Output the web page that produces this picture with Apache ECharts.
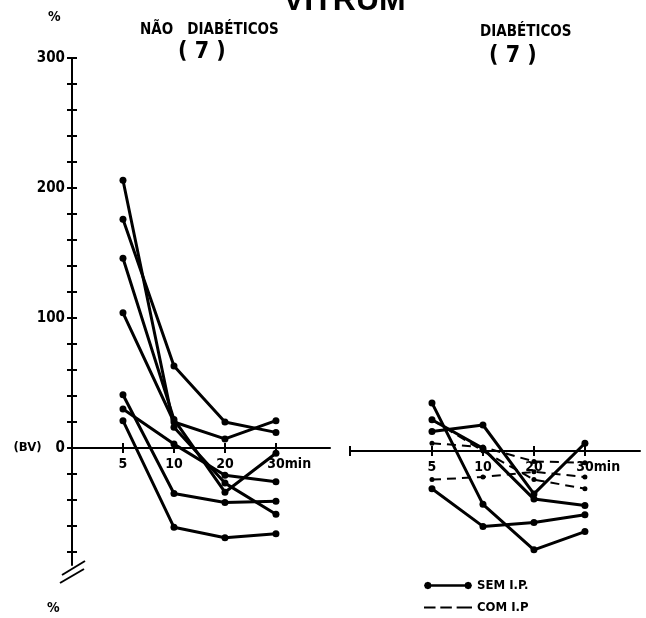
<!DOCTYPE html>
<html><head><meta charset="utf-8">
<script src="https://cdn.jsdelivr.net/npm/echarts@6/dist/echarts.min.js"></script>
<style>html,body{margin:0;padding:0;background:#fff}#c{width:646px;height:618px}</style>
</head><body><div id="c"></div>
<script>
// ---- data ----
const times = ['5', '10', '20', '30'];
const yTickValues = [-80,-60,-40,-20,0,20,40,60,80,100,120,140,160,180,200,220,240,260,280,300];
const yLabelValues = [0, 100, 200, 300];
// Não diabéticos (7) – all solid
const nd1 = [206, 16, -27, -51];
const nd2 = [176, 63, 20, 12];
const nd3 = [146, 22, -34, -4];
const nd4 = [104, 20, 7, 21];
const nd5 = [41, -35, -42, -41];
const nd6 = [30, 3, -21, -26];
const nd7 = [21, -61, -69, -66];
// Diabéticos (7) – SEM I.P. (solid)
const dSem1 = [37, -41, -76, -62];
const dSem2 = [-29, -58, -55, -49];
const dSem3 = [15, 20, -33, 6];
const dSem4 = [24, 2, -37, -42];
// Diabéticos – COM I.P (dashed)
const dCom1 = [-22, -20, -16, -20];
const dCom2 = [6, 3, -8, -9];
const dCom3 = [24, 0, -22, -29];

const F = "'DejaVu Sans Condensed','DejaVu Sans',sans-serif";
const tickPos = times.map((t, i) => i + 1);
const toPts = arr => arr.map((v, i) => [i + 1, v]);

function solid(name, arr, g) {
  return { type: 'line', name, xAxisIndex: g * 2, yAxisIndex: g * 2, data: toPts(arr),
    symbol: 'circle', symbolSize: 7, itemStyle: { color: '#000' },
    lineStyle: { color: '#000', width: 3 }, animation: false, silent: true };
}
function dashed(name, arr, g) {
  return { type: 'line', name, xAxisIndex: g * 2, yAxisIndex: g * 2, data: toPts(arr),
    symbol: 'circle', symbolSize: 5, itemStyle: { color: '#000' },
    lineStyle: { color: '#000', width: 2, type: [9, 6] }, animation: false, silent: true };
}

const xLabelFmt = v => {
  const i = Math.round(v) - 1;
  if (i === 3) return '{h|min}' + times[i] + 'min';
  return times[i];
};
const xLabelRich = { h: { color: 'rgba(0,0,0,0)', fontSize: 14, fontWeight: 'bold', fontFamily: F } };

function xAxes(grid, min, max, ticks) {
  return [
    { gridIndex: grid, type: 'value', min, max, position: 'bottom', offset: -117,
      axisLine: { show: true, onZero: false, lineStyle: { color: '#000', width: 2 } },
      axisTick: { show: false },
      axisLabel: { show: true, customValues: tickPos, formatter: xLabelFmt, margin: 9, color: '#000',
        fontSize: 14, fontWeight: 'bold', fontFamily: F, rich: xLabelRich },
      splitLine: { show: false } },
    { gridIndex: grid, type: 'value', min, max, position: 'bottom', offset: -122,
      axisLine: { show: false, onZero: false },
      axisTick: { show: true, customValues: ticks, length: 10, lineStyle: { color: '#000', width: 2 } },
      axisLabel: { show: false }, splitLine: { show: false } }
  ];
}

const legendText = { color: '#000', fontSize: 13, fontWeight: 'bold', fontFamily: F };
const dot = (cx) => `M${cx-4},4L${cx-2.8},1.2L${cx},0L${cx+2.8},1.2L${cx+4},4L${cx+2.8},6.8L${cx},8L${cx-2.8},6.8Z`;

const chart = echarts.init(document.getElementById('c'), null, { renderer: 'canvas' });
chart.setOption({
  backgroundColor: '#fff',
  animation: false,
  grid: [
    { left: 72, top: 58, width: 258, height: 507, outerBoundsMode: 'none', containLabel: false },
    { left: 350, top: 61, width: 290, height: 507, outerBoundsMode: 'none', containLabel: false }
  ],
  xAxis: [].concat(xAxes(0, 0, 5.06, tickPos), xAxes(1, -0.608, 5.08, [-0.608].concat(tickPos))),
  yAxis: [
    { gridIndex: 0, type: 'value', min: -90, max: 300, position: 'left',
      axisLine: { show: true, onZero: false, lineStyle: { color: '#000', width: 2 } },
      axisTick: { show: false },
      axisLabel: { show: true, customValues: yLabelValues, margin: 7, color: '#000', fontSize: 15,
        fontWeight: 'bold', fontFamily: F,
        formatter: v => v === 0 ? '{bv|(BV)}0' : String(v),
        rich: { bv: { fontSize: 13, fontWeight: 'bold', fontFamily: F, color: '#000', padding: [0, 14, 0, 0] } } },
      splitLine: { show: false } },
    { gridIndex: 0, type: 'value', min: -90, max: 300, position: 'left', offset: -5,
      axisLine: { show: false, onZero: false },
      axisTick: { show: true, customValues: yTickValues, length: 10, lineStyle: { color: '#000', width: 2 } },
      axisLabel: { show: false }, splitLine: { show: false } },
    { gridIndex: 1, type: 'value', min: -90, max: 300, show: false,
      axisLine: { onZero: false }, splitLine: { show: false } }
  ],
  legend: [
    { data: [{ name: 'SEM I.P.', icon: 'path://' + dot(4) + ' ' + dot(46) + ' M4,2.7L46,2.7L46,5.3L4,5.3Z' }],
      left: 424, top: 579, itemWidth: 48, itemHeight: 9, selectedMode: false, padding: 0, textStyle: legendText },
    { data: [{ name: 'COM I.P', icon: 'path://M0,3L12,3L12,5L0,5Z M17,3L29,3L29,5L17,5Z M34,3L50,3L50,5L34,5Z' }],
      left: 424, top: 601, itemWidth: 48, itemHeight: 9, selectedMode: false, padding: 0, textStyle: legendText }
  ],
  graphic: [
    { type: 'text', x: 283, y: -15, style: { text: 'VITRUM', fontSize: 32, fontWeight: 'bold',
      fontFamily: "'Liberation Sans',Arial,sans-serif", fill: '#000' } },
    { type: 'text', x: 140, y: 23, style: { text: 'NÃO   DIABÉTICOS', fontSize: 15, fontWeight: 'bold', fontFamily: F, fill: '#000' } },
    { type: 'text', x: 480, y: 25, style: { text: 'DIABÉTICOS', fontSize: 15, fontWeight: 'bold', fontFamily: F, fill: '#000' } },
    { type: 'text', x: 178, y: 41, style: { text: '( 7 )', fontSize: 23, fontWeight: 'bold', fontFamily: F, fill: '#000' } },
    { type: 'text', x: 489, y: 45, style: { text: '( 7 )', fontSize: 23, fontWeight: 'bold', fontFamily: F, fill: '#000' } },
    { type: 'text', x: 48, y: 10, style: { text: '%', fontSize: 14, fontWeight: 'bold', fontFamily: F, fill: '#000' } },
    { type: 'text', x: 47, y: 601, style: { text: '%', fontSize: 14, fontWeight: 'bold', fontFamily: F, fill: '#000' } },
    { type: 'line', shape: { x1: 62, y1: 575, x2: 85, y2: 561 }, style: { stroke: '#000', lineWidth: 2 } },
    { type: 'line', shape: { x1: 60, y1: 583, x2: 84, y2: 569 }, style: { stroke: '#000', lineWidth: 2 } }
  ],
  series: [
    solid('ND1', nd1, 0), solid('ND2', nd2, 0), solid('ND3', nd3, 0), solid('ND4', nd4, 0),
    solid('ND5', nd5, 0), solid('ND6', nd6, 0), solid('ND7', nd7, 0),
    solid('SEM I.P.', dSem1, 1), solid('SEM I.P.', dSem2, 1), solid('SEM I.P.', dSem3, 1), solid('SEM I.P.', dSem4, 1),
    dashed('COM I.P', dCom1, 1), dashed('COM I.P', dCom2, 1), dashed('COM I.P', dCom3, 1)
  ]
});
</script>
</body></html>
